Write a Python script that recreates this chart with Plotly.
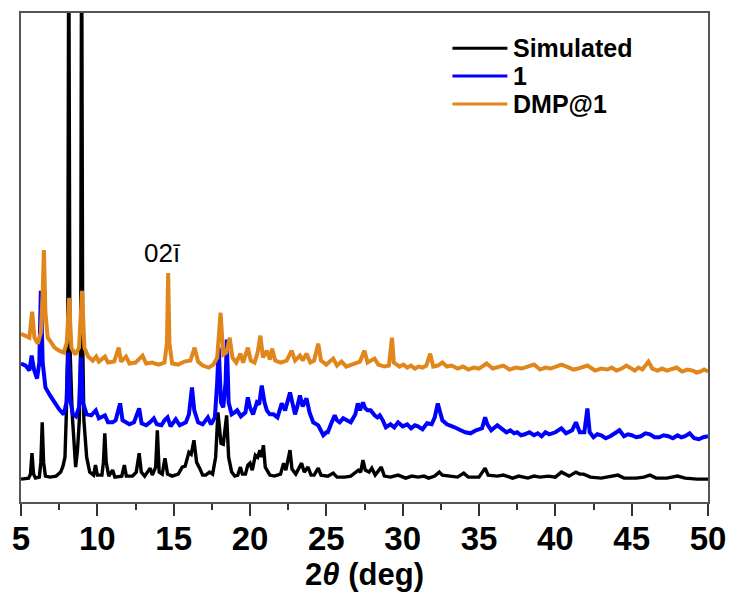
import plotly.graph_objects as go

# Powder XRD patterns (intensity in arbitrary units, stacked with vertical offsets)
sim_2theta = [5.0, 5.5, 5.62, 5.72, 5.82, 5.95, 6.2, 6.3, 6.39, 6.48, 6.6, 6.9, 7.3, 7.6, 7.75, 7.88,
              7.97, 8.06, 8.13, 8.2, 8.35, 8.5, 8.58, 8.7, 8.82, 8.91, 8.97, 9.04, 9.12, 9.3, 9.5,
              9.75, 9.88, 10.0, 10.3, 10.4, 10.49, 10.58, 10.75, 11.0, 11.15, 11.6, 11.77, 11.9, 12.3,
              12.55, 12.74, 12.88, 13.1, 13.46, 13.6, 13.82, 13.93, 14.05, 14.25, 14.43, 14.6, 14.9,
              15.3, 15.56, 15.75, 16.0, 16.15, 16.33, 16.5, 16.7, 16.9, 17.1, 17.35, 17.55, 17.75,
              17.9, 18.0, 18.1, 18.25, 18.47, 18.6, 18.8, 19.0, 19.2, 19.37, 19.5, 19.7, 19.86, 20.0,
              20.15, 20.35, 20.5, 20.65, 20.75, 20.88, 21.0, 21.3, 21.6, 22.0, 22.2, 22.35, 22.62,
              22.75, 23.0, 23.38, 23.55, 23.8, 24.0, 24.2, 24.47, 24.65, 25.1, 25.45, 25.7, 26.2,
              26.6, 27.1, 27.25, 27.4, 27.55, 27.8, 27.98, 28.2, 28.6, 28.8, 29.2, 29.7, 30.2, 30.6,
              31.0, 31.4, 31.7, 32.1, 32.4, 32.6, 33.1, 33.6, 34.0, 34.3, 35.0, 35.4, 35.6, 36.2,
              36.6, 37.2, 37.6, 38.2, 38.6, 39.0, 39.55, 40.0, 40.4, 40.6, 40.9, 41.35, 41.6, 41.85,
              42.3, 43.0, 43.5, 44.1, 44.5, 45.3, 45.8, 46.2, 46.6, 47.3, 48.0, 48.5, 49.3, 50.0]
sim_int = [23, 24, 28, 49, 28, 24, 25, 40, 80, 40, 26, 25, 26, 30, 36, 45,
           89, 160, 600, 160, 89, 45, 35, 52, 82, 160, 600, 160, 82, 45, 30,
           27, 37, 27, 27, 40, 69, 40, 26, 32, 25, 26, 37, 26, 26,
           30, 49, 30, 26, 34, 27, 35, 72, 30, 28, 44, 28, 26,
           28, 35, 36, 50, 48, 62, 40, 34, 27, 27, 30, 28, 45,
           90, 70, 59, 58, 87, 45, 30, 26, 27, 35, 28, 28, 37, 39,
           32, 47, 45, 52, 45, 57, 35, 27, 26, 28, 39, 32, 52,
           33, 28, 39, 30, 35, 27, 27, 34, 27, 26, 29, 25, 25,
           26, 32, 30, 42, 32, 30, 34, 27, 35, 26, 25, 27, 24, 26,
           25, 26, 24, 26, 30, 27, 26, 25, 29, 25, 25, 34, 27, 26,
           27, 24, 26, 24, 26, 25, 26, 25, 30, 28, 26, 30, 28, 28,
           25, 24, 25, 27, 24, 24, 25, 27, 24, 24, 26, 24, 23, 23]

exp_2theta = [5.0, 5.3, 5.55, 5.7, 5.85, 6.05, 6.2, 6.3, 6.42, 6.6, 6.9, 7.2, 7.5, 7.8, 7.98, 8.1,
              8.2, 8.4, 8.6, 8.8, 8.93, 9.05, 9.3, 9.6, 9.9, 10.1, 10.5, 10.7, 11.0, 11.2, 11.49,
              11.65, 11.9, 12.1, 12.4, 12.74, 12.9, 13.2, 13.45, 13.7, 13.9, 14.2, 14.4, 14.6, 14.8,
              15.14, 15.4, 15.8, 16.0, 16.2, 16.35, 16.6, 16.9, 17.24, 17.45, 17.7, 17.85, 17.95,
              18.1, 18.25, 18.4, 18.48, 18.6, 18.8, 19.0, 19.16, 19.4, 19.7, 19.86, 20.0, 20.2,
              20.45, 20.6, 20.77, 20.95, 21.1, 21.3, 21.54, 21.8, 22.08, 22.3, 22.62, 22.8, 22.95,
              23.1, 23.27, 23.45, 23.7, 23.9, 24.14, 24.47, 24.65, 24.8, 25.0, 25.1, 25.3, 25.55,
              25.7, 25.87, 26.1, 26.3, 26.6, 26.9, 27.06, 27.2, 27.4, 27.55, 27.7, 27.9, 28.16,
              28.35, 28.5, 28.7, 28.9, 29.2, 29.45, 29.7, 30.0, 30.3, 30.55, 30.8, 31.0, 31.3, 31.6,
              31.9, 32.1, 32.3, 32.45, 32.6, 32.9, 33.15, 33.4, 33.8, 34.1, 34.45, 34.8, 35.2, 35.4,
              35.55, 35.8, 36.2, 36.5, 36.8, 37.05, 37.3, 37.5, 37.75, 38.0, 38.3, 38.6, 38.85, 39.1,
              39.35, 39.6, 40.0, 40.4, 40.7, 41.1, 41.35, 41.6, 41.9, 42.1, 42.25, 42.5, 42.75, 43.0,
              43.3, 43.6, 43.9, 44.2, 44.5, 44.75, 45.0, 45.3, 45.6, 45.9, 46.2, 46.5, 46.8, 47.1,
              47.4, 47.7, 48.0, 48.25, 48.5, 48.8, 49.1, 49.4, 49.7, 50.0]
exp_int = [139, 137, 132, 147, 133, 124, 140, 212, 140, 115, 107, 100, 93, 88, 100, 150,
           105, 88, 86, 95, 145, 100, 88, 87, 92, 84, 87, 80, 80, 82, 99,
           82, 80, 78, 80, 94, 79, 77, 80, 84, 78, 77, 82, 85, 76,
           83, 77, 80, 88, 115, 92, 80, 78, 85, 78, 85, 120, 155,
           100, 95, 120, 163, 100, 88, 90, 92, 86, 90, 105, 95, 88,
           100, 98, 117, 100, 92, 88, 88, 85, 99, 92, 110, 98, 88,
           96, 107, 96, 104, 90, 80, 77, 72, 67, 70, 70, 78, 87,
           82, 80, 84, 82, 80, 88, 99, 92, 100, 94, 92, 92, 87,
           85, 87, 82, 75, 78, 75, 80, 76, 78, 74, 77, 76, 73, 79,
           78, 85, 99, 90, 82, 78, 76, 75, 72, 70, 69, 72, 74, 85,
           78, 72, 77, 73, 70, 72, 69, 70, 67, 68, 70, 67, 69, 66,
           70, 68, 70, 74, 69, 72, 80, 70, 70, 94, 70, 65, 68, 67,
           64, 66, 69, 72, 66, 68, 67, 65, 66, 69, 68, 65, 65, 67,
           66, 64, 67, 65, 66, 69, 64, 63, 65, 66]

dmp_2theta = [5.0, 5.3, 5.55, 5.73, 5.88, 6.1, 6.3, 6.42, 6.5, 6.6, 6.75, 6.9, 7.2, 7.5, 7.8, 8.0,
              8.15, 8.3, 8.55, 8.8, 9.0, 9.15, 9.4, 9.7, 9.93, 10.1, 10.5, 10.7, 11.1, 11.4, 11.55,
              11.88, 12.1, 12.5, 12.96, 13.2, 13.6, 14.0, 14.4, 14.56, 14.64, 14.72, 14.9, 15.3,
              15.7, 16.1, 16.37, 16.6, 16.9, 17.3, 17.6, 17.85, 18.07, 18.25, 18.45, 18.67, 18.85,
              19.1, 19.37, 19.55, 19.86, 20.05, 20.3, 20.5, 20.68, 20.85, 21.1, 21.3, 21.45, 21.65,
              22.0, 22.4, 22.73, 22.95, 23.27, 23.45, 23.7, 23.95, 24.2, 24.47, 24.65, 25.0, 25.45,
              25.7, 26.0, 26.3, 26.7, 27.2, 27.5, 27.7, 28.16, 28.4, 28.8, 29.1, 29.3, 29.42, 29.8,
              30.05, 30.3, 30.55, 30.8, 31.05, 31.3, 31.55, 31.8, 32.0, 32.3, 32.6, 32.9, 33.2, 33.6,
              33.95, 34.3, 34.65, 35.0, 35.25, 35.5, 35.9, 36.25, 36.6, 37.0, 37.4, 37.8, 38.2, 38.6,
              39.0, 39.35, 39.7, 40.05, 40.4, 40.9, 41.2, 41.5, 41.8, 42.1, 42.6, 43.0, 43.4, 43.7,
              44.0, 44.35, 44.65, 45.2, 45.45, 45.7, 46.1, 46.35, 46.7, 47.0, 47.3, 47.6, 47.95, 48.3,
              48.65, 49.0, 49.25, 49.5, 49.75, 50.0]
dmp_int = [169, 167, 165, 191, 165, 159, 170, 210, 253, 190, 165, 162, 155, 152, 150, 160,
           205, 155, 148, 155, 212, 155, 146, 142, 146, 141, 146, 140, 141, 155, 141,
           146, 139, 140, 147, 139, 140, 138, 140, 160, 230, 160, 139, 138,
           141, 142, 155, 141, 137, 135, 138, 145, 190, 148, 150, 165, 145,
           140, 149, 140, 155, 142, 140, 150, 167, 145, 152, 143, 154, 142,
           140, 142, 152, 142, 147, 142, 149, 140, 142, 159, 142, 138, 144,
           137, 141, 136, 138, 141, 152, 140, 144, 138, 136, 137, 165, 140, 136,
           138, 135, 137, 134, 136, 135, 137, 149, 136, 137, 140, 136, 137, 134,
           136, 133, 135, 134, 136, 139, 134, 136, 137, 133, 135, 134, 136, 138,
           133, 135, 134, 136, 138, 135, 133, 134, 136, 137, 132, 134, 133, 135,
           132, 134, 137, 132, 135, 133, 141, 134, 132, 134, 132, 133, 135, 131,
           133, 132, 130, 131, 133, 131]

series_names = ["Simulated", "1", "DMP@1"]
series_colors = ["#000000", "#0000FF", "#E0861A"]
series_x = [sim_2theta, exp_2theta, dmp_2theta]
series_y = [sim_int, exp_int, dmp_int]
line_widths = [3.4, 4.0, 4.0]

x_ticks = [5, 10, 15, 20, 25, 30, 35, 40, 45, 50]
peak_label = "02ī"
peak_label_pos = (14.25, 250)

fig = go.Figure()
for name, color, xs, ys, lw in zip(series_names, series_colors, series_x, series_y, line_widths):
    fig.add_trace(go.Scatter(x=xs, y=ys, mode="lines", name=name, showlegend=False,
                             line=dict(color=color, width=lw)))

# Hand-placed legend in the upper right
legend_rows = [0.928, 0.871, 0.814]
for name, color, yr in zip(series_names, series_colors, legend_rows):
    fig.add_shape(type="line", xref="paper", yref="paper", x0=0.628, x1=0.708, y0=yr, y1=yr,
                  line=dict(color=color, width=3))
    fig.add_annotation(xref="paper", yref="paper", x=0.713, y=yr, text=f"<b>{name}</b>",
                       showarrow=False, xanchor="left", yanchor="middle",
                       font=dict(family="Liberation Sans, Arial", size=25, color="#000000"))

fig.add_annotation(x=peak_label_pos[0], y=peak_label_pos[1], text=peak_label, showarrow=False,
                   xanchor="center", yanchor="middle",
                   font=dict(family="Liberation Sans, Arial", size=26, color="#000000"))

fig.update_layout(
    width=737, height=596,
    margin=dict(l=21, r=25, t=11, b=94),
    paper_bgcolor="white", plot_bgcolor="white",
    xaxis=dict(range=[5, 50], tickvals=x_ticks, ticks="outside", ticklen=12, tickwidth=1.5,
               tickcolor="#333", showline=True, linecolor="#555", linewidth=2, mirror=True,
               showgrid=False, zeroline=False, ticklabelstandoff=-6,
               minor=dict(ticks="outside", ticklen=6, tickwidth=1.5, tickcolor="#333", dtick=2.5),
               tickfont=dict(family="Liberation Sans, Arial", size=33, color="#000000",
                             weight="bold"),
               title=dict(text="2<i>θ</i> (deg)", standoff=4,
                          font=dict(family="Liberation Sans, Arial", size=31,
                                    color="#000000", weight="bold"))),
    yaxis=dict(range=[0, 491], showticklabels=False, ticks="", showline=True, linecolor="#555",
               linewidth=2, mirror=True, showgrid=False, zeroline=False),
)

fig.write_html("out.html")
